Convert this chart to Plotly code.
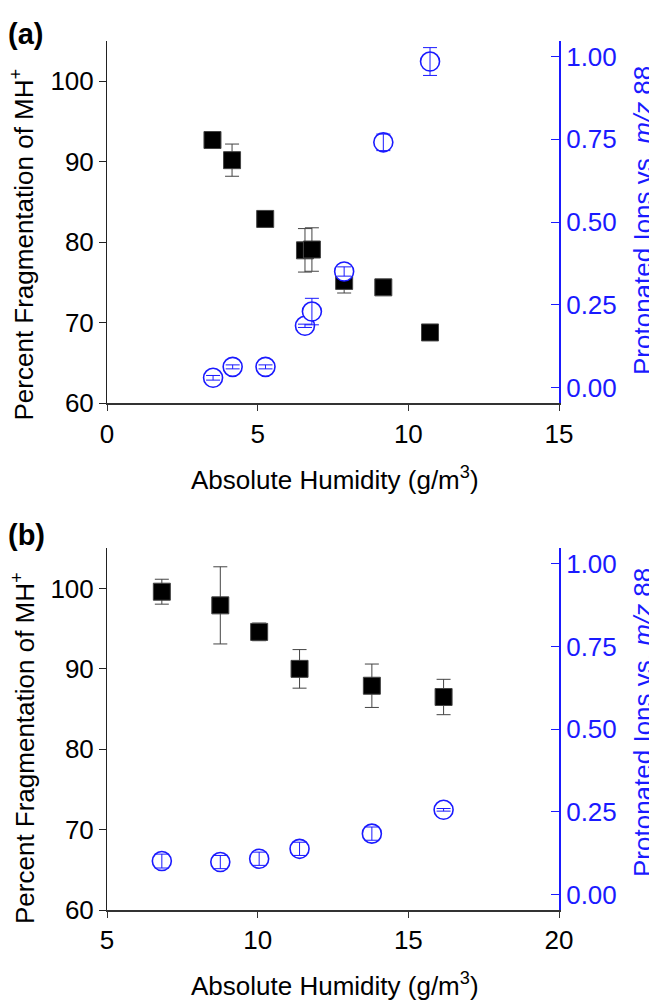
import plotly.graph_objects as go

# ---------------- data: panel (a) ----------------
a_x_frag = [3.50, 4.15, 5.25, 6.57, 6.80, 7.87, 9.17, 10.72]
a_frag = [92.7, 90.2, 82.9, 79.0, 79.1, 75.2, 74.4, 68.8]
a_frag_err = [0.5, 2.0, 0.5, 2.7, 2.7, 1.5, 0.5, 0.5]

a_x_prot = [3.52, 4.17, 5.26, 6.57, 6.80, 7.87, 9.17, 10.72]
a_prot = [0.030, 0.063, 0.063, 0.187, 0.230, 0.351, 0.741, 0.985]
a_prot_err = [0.007, 0.006, 0.006, 0.005, 0.040, 0.014, 0.025, 0.042]

# ---------------- data: panel (b) ----------------
b_x_frag = [6.82, 8.76, 10.05, 11.39, 13.79, 16.17]
b_frag = [99.6, 97.9, 94.6, 90.0, 87.9, 86.5]
b_frag_err = [1.55, 4.8, 1.1, 2.4, 2.7, 2.2]

b_x_prot = [6.82, 8.76, 10.05, 11.39, 13.79, 16.17]
b_prot = [0.101, 0.098, 0.108, 0.138, 0.184, 0.256]
b_prot_err = [0.021, 0.020, 0.020, 0.020, 0.020, 0.004]

left_ticks = [60, 70, 80, 90, 100]
right_ticks = [0.0, 0.25, 0.5, 0.75, 1.0]
right_ticktext = ["0.00", "0.25", "0.50", "0.75", "1.00"]

FONT = "Liberation Sans, Arial, sans-serif"
BLUE = "#1a1aff"
FS = 26

fig = go.Figure()


def add_panel(xa, ya_left, ya_right, xf, yf, ef, xp, yp, ep):
    fig.add_trace(go.Scatter(
        x=xf, y=yf, mode="markers", xaxis=xa, yaxis=ya_left,
        marker=dict(symbol="square", size=17, color="black",
                    line=dict(color="#444", width=1)),
        error_y=dict(type="data", array=ef, color="#444", thickness=1, width=7),
        showlegend=False, hoverinfo="skip"))
    fig.add_trace(go.Scatter(
        x=xp, y=yp, mode="markers", xaxis=xa, yaxis=ya_right,
        marker=dict(symbol="circle", size=19, color="white",
                    line=dict(color=BLUE, width=1.6)),
        showlegend=False, hoverinfo="skip"))
    fig.add_trace(go.Scatter(
        x=xp, y=yp, mode="markers", xaxis=xa, yaxis=ya_right,
        marker=dict(size=1, color="rgba(0,0,0,0)"),
        error_y=dict(type="data", array=ep, color=BLUE, thickness=1, width=7),
        showlegend=False, hoverinfo="skip"))


add_panel("x", "y", "y2", a_x_frag, a_frag, a_frag_err, a_x_prot, a_prot, a_prot_err)
add_panel("x2", "y3", "y4", b_x_frag, b_frag, b_frag_err, b_x_prot, b_prot, b_prot_err)

# the page body adds an 8px offset; the figure is sized/positioned to compensate
OFF = 8
W, H = 657 - OFF, 1000 - OFF
L = 107 - OFF
T = 41 - OFF
R = W - (559 - OFF)
B = H - (910 - OFF)
PW = W - L - R
PH = H - T - B


def px2paper_x(px):
    return (px - OFF - L) / PW


def px2paper_y(py):
    return (H - B - (py - OFF)) / PH


a_bot = px2paper_y(403.3)
b_top = px2paper_y(548.3)

xcommon = dict(showline=True, linecolor="#333", linewidth=2, ticks="outside",
               ticklen=6, tickwidth=1, tickcolor="#333", showgrid=False,
               zeroline=False, tickfont=dict(size=FS, color="black", family=FONT))
ylcommon = dict(showline=True, linecolor="#222", linewidth=1, ticks="outside",
                ticklen=7, tickwidth=1, tickcolor="#222", showgrid=False,
                zeroline=False, range=[60, 105], tickvals=left_ticks,
                tickfont=dict(size=FS, color="black", family=FONT))
yrcommon = dict(showline=True, linecolor=BLUE, linewidth=2, ticks="inside",
                ticklen=8, tickwidth=1, tickcolor=BLUE, showgrid=False,
                zeroline=False, range=[-0.047, 1.047], tickvals=right_ticks,
                ticktext=right_ticktext, side="right",
                tickfont=dict(size=FS, color=BLUE, family=FONT))

fig.update_layout(
    width=W, height=H,
    margin=dict(l=L, r=R, t=T, b=B),
    plot_bgcolor="white", paper_bgcolor="white",
    font=dict(family=FONT, size=FS, color="black"),
    xaxis=dict(domain=[0, 1], anchor="y", range=[0, 15], tickvals=[0, 5, 10, 15], **xcommon),
    yaxis=dict(domain=[a_bot, 1], anchor="x", **ylcommon),
    yaxis2=dict(overlaying="y", anchor="x", **yrcommon),
    xaxis2=dict(domain=[0, 1], anchor="y3", range=[5, 20], tickvals=[5, 10, 15, 20], **xcommon),
    yaxis3=dict(domain=[0, b_top], anchor="x2", **ylcommon),
    yaxis4=dict(overlaying="y3", anchor="x2", **yrcommon),
)

ann = []
for (ylab_y, rlab_y, xlab_y, tag, tag_top) in [
        (244.5, 221, 478, "(a)", 16), (748, 723, 985, "(b)", 517)]:
    ann.append(dict(text="Percent Fragmentation of MH<sup>+</sup>", textangle=-90,
                    x=px2paper_x(23), y=px2paper_y(ylab_y), xref="paper", yref="paper",
                    showarrow=False, xanchor="center", yanchor="middle",
                    font=dict(size=FS, color="black", family=FONT)))
    ann.append(dict(text="Protonated Ions vs. <i>m/z</i> 88", textangle=-90,
                    x=px2paper_x(643), y=px2paper_y(rlab_y), xref="paper", yref="paper",
                    showarrow=False, xanchor="center", yanchor="middle",
                    font=dict(size=FS, color=BLUE, family=FONT)))
    ann.append(dict(text="Absolute Humidity (g/m<sup>3</sup>)",
                    x=px2paper_x(335), y=px2paper_y(xlab_y), xref="paper", yref="paper",
                    showarrow=False, xanchor="center", yanchor="middle",
                    font=dict(size=FS, color="black", family=FONT)))
    ann.append(dict(text="<b>%s</b>" % tag,
                    x=px2paper_x(6), y=px2paper_y(tag_top), xref="paper", yref="paper",
                    showarrow=False, xanchor="left", yanchor="top",
                    font=dict(size=29, color="black", family=FONT)))
fig.update_layout(annotations=ann)

fig.write_html("out.html")
